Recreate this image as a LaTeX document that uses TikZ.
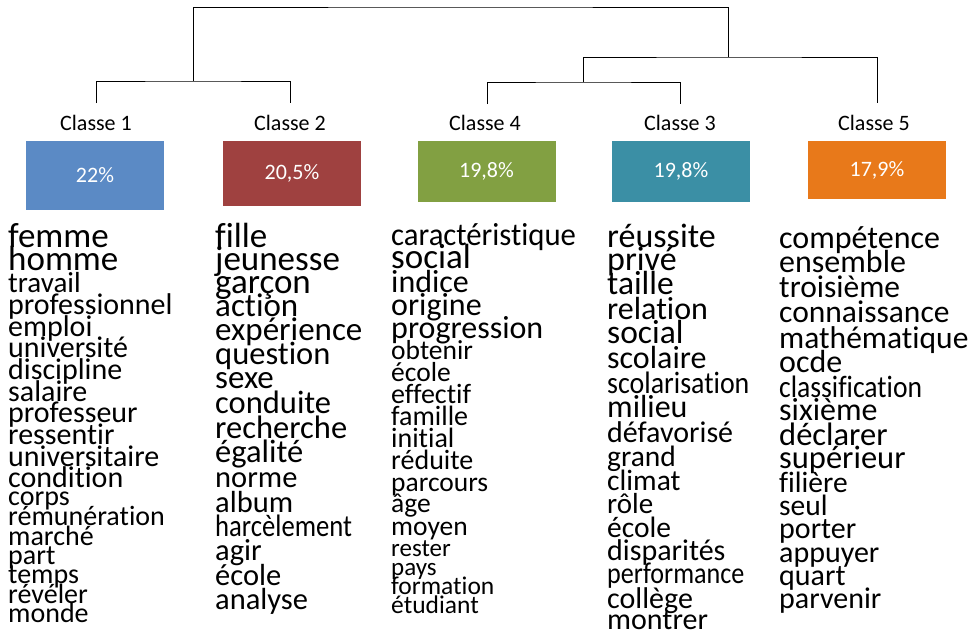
\documentclass[tikz,border=0pt]{standalone}
\usepackage{fontspec}
\setmainfont{Carlito}[Ligatures={NoCommon}]
\usetikzlibrary{positioning}

\definecolor{clsblue}{HTML}{5B8AC5}
\definecolor{clsred}{HTML}{9F4140}
\definecolor{clsgreen}{HTML}{82A042}
\definecolor{clsteal}{HTML}{3B8FA5}
\definecolor{clsorange}{HTML}{E8791A}

\tikzset{
  term/.style={anchor=base west, inner sep=0pt},
  clabel/.style={inner sep=0pt, font=\fontsize{22}{22}\selectfont},
  pbox/.style={inner sep=0pt, minimum width=138pt, text=white,
    font=\fontsize{22}{22}\selectfont},
  tree/.style={draw=black, line width=0.8pt}
}

\begin{document}
\begin{tikzpicture}[x=1pt,y=-1pt]
      \useasboundingbox (0,0) rectangle (980,634);

      \node[clabel] (c1) at (96,123) {Classe 1};
      \node[clabel] (c2) at (290,123) {Classe 2};
      \node[clabel] (c4) at (485,123) {Classe 4};
      \node[clabel] (c3) at (680,123) {Classe 3};
      \node[clabel] (c5) at (874,123) {Classe 5};

      \node[pbox, fill=clsblue, minimum height=69pt] (b1) at (95,175.5) {\raisebox{-2pt}{22\%}};
      \node[pbox, fill=clsred, minimum height=65pt] (b2) at (292,173.5) {\raisebox{-2pt}{20,5\%}};
      \node[pbox, fill=clsgreen, minimum height=61pt] (b4) at (486.5,171.5) {\raisebox{-2pt}{19,8\%}};
      \node[pbox, fill=clsteal, minimum height=61pt] (b3) at (681,171.5) {\raisebox{-2pt}{19,8\%}};
      \node[pbox, fill=clsorange, minimum height=58pt] (b5) at (877,170) {\raisebox{-2pt}{17,9\%}};

      % dendrogram
      \coordinate (t1) at (96,103);
      \coordinate (t2) at (290,103);
      \coordinate (t4) at (487,104);
      \coordinate (t3) at (680,104);
      \coordinate (t5) at (877,103);
      \coordinate (j12) at (193,81);
      \coordinate (j43) at (583,82);
      \coordinate (jr) at (728,57);
      \coordinate (jtop) at (460,7);

      \draw[tree] (t1) |- (j12) -| (t2);
      \draw[tree] (t4) |- (j43) -| (t3);
      \draw[tree] (j43) |- (jr) -| (t5);
      \draw[tree] (j12) |- (jtop) -| (jr);

      \foreach \w/\s/\y/\h [count=\i] in {
        femme/35/247/1, homme/35/270/1, travail/29/292/1,
        professionnel/30/314/1, emploi/30/336/1, université/30/357/1,
        discipline/30/379/1, salaire/30/401/1, professeur/30/422/1,
        ressentir/30/444/1, universitaire/30/466/1, condition/30/487/1,
        corps/28/505/1, rémunération/28/525/1, marché/28/545/1,
        part/28/564/1, temps/28/583/1, révéler/28/603/1, monde/28/622/1}
        \node[term] (k1w\i) at (8,\y) {\fontsize{\s}{\s}\selectfont\scalebox{\h}[1]{\w}};

      \foreach \w/\s/\y/\h [count=\i] in {
        fille/35/247/1, jeunesse/35/270/1, garçon/35/293/1,
        action/33/316/1, expérience/33/340/1, question/32.5/364/1,
        sexe/33/388/1, conduite/32.5/413/1, recherche/32.5/438/1,
        égalité/32.5/462/1, norme/30.5/487/1, album/30.5/512/1,
        harcèlement/31/536/0.86, agir/30.5/560/1, école/30.5/585/1,
        analyse/30.5/609/1}
        \node[term] (k2w\i) at (215,\y) {\fontsize{\s}{\s}\selectfont\scalebox{\h}[1]{\w}};

      \foreach \w/\s/\y/\h [count=\i] in {
        caractéristique/32/245/0.96, social/35/268/1, indice/32/292/1,
        origine/32/315/1, progression/32/338/1, obtenir/27.5/359/1,
        école/27.5/381/1, effectif/28/403/1, famille/28/425/1,
        initial/28/447/1, réduite/28/469/1, parcours/27.5/491/1,
        âge/27.5/512/1, moyen/27.5/535/1, rester/25/556/1,
        pays/25/575/1, formation/25.5/594/1, étudiant/25.5/613/1}
        \node[term] (k4w\i) at (391,\y) {\fontsize{\s}{\s}\selectfont\scalebox{\h}[1]{\w}};

      \foreach \w/\s/\y/\h [count=\i] in {
        réussite/34/247/1, privé/34/270/1, taille/33.5/294/1,
        relation/32/319/1, social/33.5/343/1, scolaire/32/368/1,
        scolarisation/31/393/0.9, milieu/32/417/1, défavorisé/30/442/1,
        grand/29.5/466/1, climat/29.5/490/1, rôle/29/513/1,
        école/29.5/537/1, disparités/30/560/1, performance/30/583/0.87,
        collège/30/608/1, montrer/30/629/1}
        \node[term] (k3w\i) at (607,\y) {\fontsize{\s}{\s}\selectfont\scalebox{\h}[1]{\w}};

      \foreach \w/\s/\y/\h [count=\i] in {
        compétence/32/248/1, ensemble/32/272/1, troisième/31.5/297/1,
        connaissance/31.5/322/1, mathématique/31.5/348/1, ocde/32/372/1,
        classification/31/397/0.89, sixième/32/420/1, déclarer/32.5/445/1,
        supérieur/32.5/468/1, filière/29.5/492/1, seul/29.5/515/1,
        porter/30/538/1, appuyer/30/562/1, quart/30/585/1,
        parvenir/30/608/1}
        \node[term] (k5w\i) at (779,\y) {\fontsize{\s}{\s}\selectfont\scalebox{\h}[1]{\w}};

    \end{tikzpicture}
\end{document}
